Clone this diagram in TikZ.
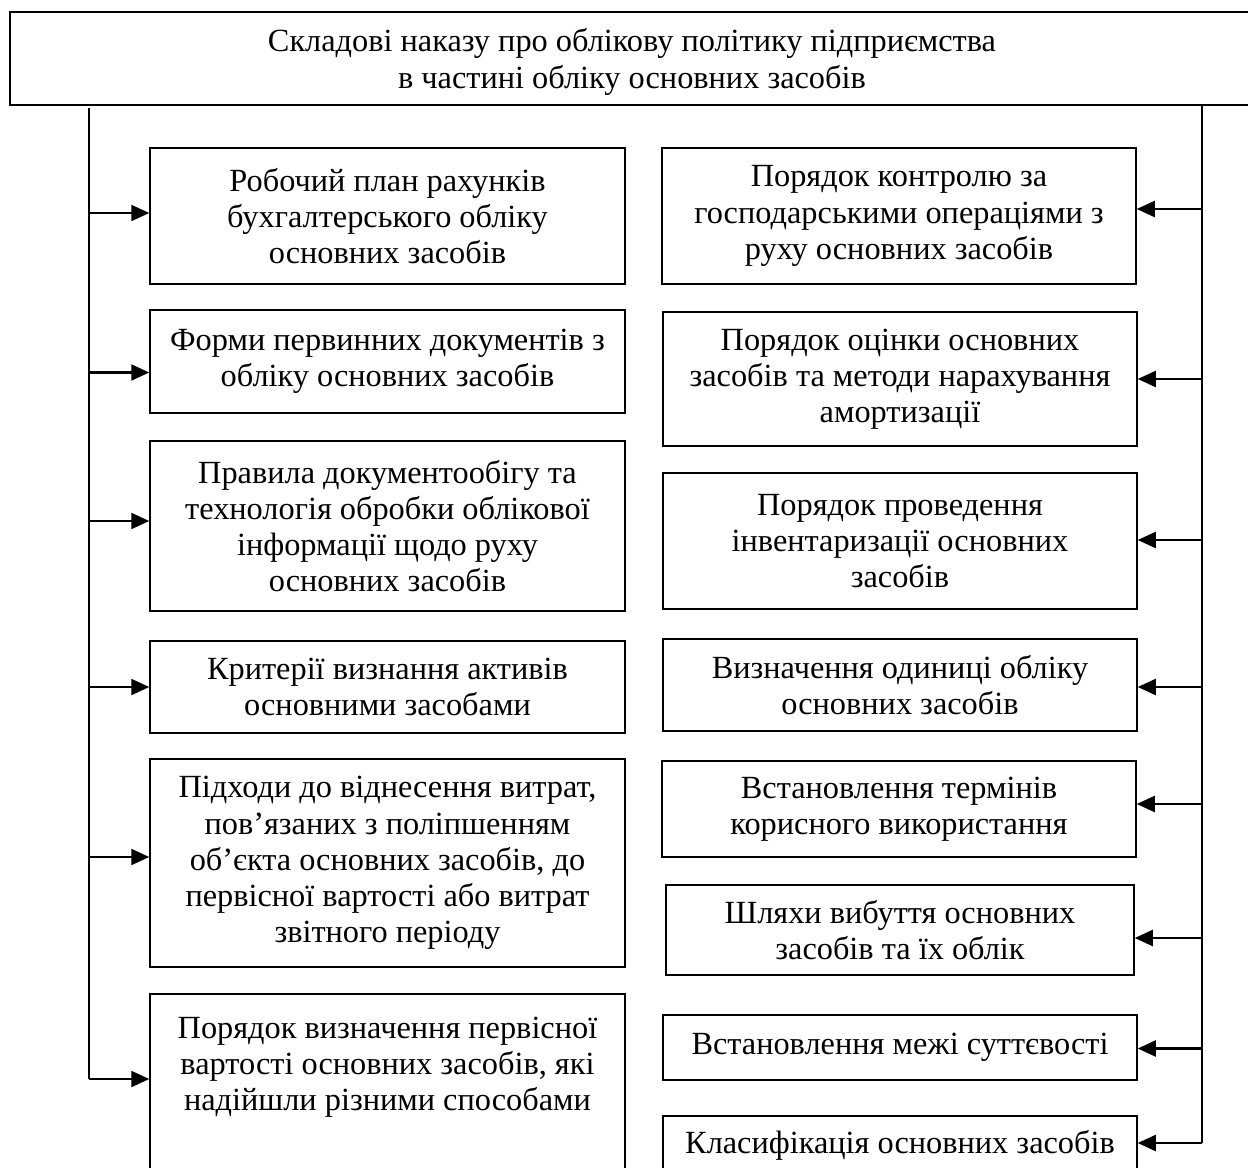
\documentclass[tikz,border=0pt]{standalone}
\usepackage{fontspec}
\setmainfont{Liberation Serif}
\usepackage{tikz}
\usetikzlibrary{arrows.meta,calc}

\begin{document}
\begin{tikzpicture}[x=0.02cm,y=-0.02cm,
    blok/.style={draw,line width=0.9pt,align=center,inner sep=2pt,
      font=\fontsize{18.4}{20.6}\selectfont},
    livyj/.style={blok,minimum width=9.5cm},
    pravyj/.style={blok,minimum width=9.48cm},
    shyna/.style={line width=0.9pt},
    strilka/.style={-{Triangle[length=0.36cm,width=0.32cm]},line width=1.2pt}]
  \useasboundingbox (0,0) rectangle (1248,1167);

  % Заголовок
  \node[blok,minimum width=24.88cm,minimum height=1.86cm,text depth=0pt]
    (hol) at (632,58.5)
    {Складові наказу про облікову політику підприємства\\
     в частині обліку основних засобів};

  % Лівий стовпчик
  \node[livyj,minimum height=2.72cm] (l1) at (387.5,216)
    {Робочий план рахунків\\ бухгалтерського обліку\\ основних засобів};
  \node[livyj,minimum height=2.06cm] (l2) at (387.5,361.5)
    {Форми первинних документів з\\ обліку основних засобів};
  \node[livyj,minimum height=3.4cm] (l3) at (387.5,526)
    {Правила документообігу та\\ технологія обробки облікової\\
     інформації щодо руху\\ основних засобів};
  \node[livyj,minimum height=1.84cm] (l4) at (387.5,687)
    {Критерії визнання активів\\ основними засобами};
  \node[livyj,minimum height=4.16cm] (l5) at (387.5,863)
    {Підходи до віднесення витрат,\\ пов’язаних з поліпшенням\\
     об’єкта основних засобів, до\\ первісної вартості або витрат\\
     звітного періоду};
  \node[livyj,anchor=north,text depth=3cm,inner ysep=13pt] (l6) at (387.5,993)
    {Порядок визначення первісної\\ вартості основних засобів, які\\
     надійшли різними способами};

  % Правий стовпчик
  \node[pravyj,minimum height=2.72cm] (p1) at (899,216)
    {Порядок контролю за\\ господарськими операціями з\\ руху основних засобів};
  \node[pravyj,minimum height=2.68cm] (p2) at (900,379)
    {Порядок оцінки основних\\ засобів та методи нарахування\\ амортизації};
  \node[pravyj,minimum height=2.72cm] (p3) at (900,541)
    {Порядок проведення\\ інвентаризації основних\\ засобів};
  \node[pravyj,minimum height=1.84cm] (p4) at (900,685)
    {Визначення одиниці обліку\\ основних засобів};
  \node[pravyj,minimum height=1.92cm] (p5) at (899,809)
    {Встановлення термінів\\ корисного використання};
  \node[pravyj,minimum width=9.36cm,minimum height=1.8cm] (p6) at (900,930)
    {Шляхи вибуття основних\\ засобів та їх облік};
  \node[pravyj,minimum height=1.3cm] (p7) at (900,1047.5)
    {Встановлення межі суттєвості};
  \node[pravyj,anchor=north,text depth=2cm,inner ysep=8pt] (p8) at (900,1115)
    {Класифікація основних засобів};

  % Шини зв'язку
  \coordinate (lv) at (89,108);
  \coordinate (ln) at (89,1079);
  \coordinate (pv) at (1202,104);
  \coordinate (pn) at (1202,1143);
  \draw[shyna] (lv) -- (ln);
  \draw[shyna] (pv) -- (pn);

  % стрілки трохи зміщені від середини блоків, як у вихідній схемі
  \foreach \b/\d in {l1/-3,l2/11,l3/-5,l4/0,l5/-6}
    \draw[strilka] ($(\b.west)+(0,\d)$) coordinate (t) (t -| lv) -- (t);
  \draw[strilka] (ln) -- (ln -| l6.west);

  \foreach \b/\d in {p1/-7,p2/0,p3/-1,p4/2,p5/-5,p6/8,p7/1}
    \draw[strilka] ($(\b.east)+(0,\d)$) coordinate (t) (t -| pv) -- (t);
  \draw[strilka] (pn) -- (pn -| p8.east);
\end{tikzpicture}
\end{document}
